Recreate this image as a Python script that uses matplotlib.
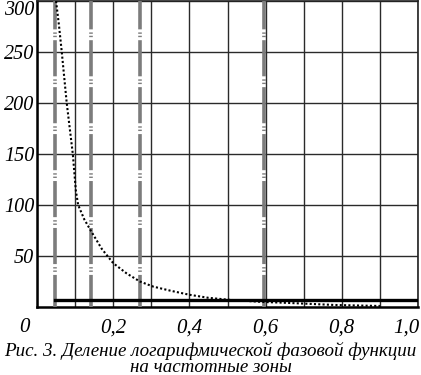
#!/usr/bin/env python3
"""Log phase function split into frequency zones (Fig. 3)."""

import matplotlib
matplotlib.use("Agg")
import matplotlib.pyplot as plt
import matplotlib.transforms as mtransforms

# Zone boundaries on the normalised frequency axis.
zone_bounds = [0.047, 0.142, 0.270, 0.596]

# Log phase function (dotted curve).
curve_x = [0.050, 0.058, 0.065, 0.078, 0.094, 0.102, 0.108, 0.124, 0.141, 0.170,
           0.200, 0.235, 0.270, 0.305, 0.350, 0.400, 0.450, 0.506, 0.590, 0.660,
           0.780, 0.900]
curve_y = [300, 275, 250, 200, 150, 114, 100, 86, 75, 57,
           43, 33, 25, 20, 16, 12, 9, 7, 5, 4,
           2, 1]

# Threshold level (thick horizontal line).
level_y = 6.5
level_x = [0.047, 1.0]

x_ticks = [0, 0.2, 0.4, 0.6, 0.8, 1.0]
x_tick_labels = ["0", "0,2", "0,4", "0,6", "0,8", "1,0"]
y_ticks = [50, 100, 150, 200, 250, 300]
y_tick_labels = ["50", "100", "150", "200", "250", "300"]

caption = ("Рис. 3. Деление логарифмической фазовой функции\n"
           "на частотные зоны")

plt.rcParams["font.family"] = ["Liberation Serif", "DejaVu Serif"]
plt.rcParams["font.style"] = "italic"
plt.rcParams["lines.scale_dashes"] = False

fig = plt.figure(figsize=(4.21, 3.75), dpi=100)
ax = fig.add_axes([37 / 421, 1 - 307 / 375, 381 / 421, 306 / 375])

ax.set_xlim(0, 1.0)
ax.set_ylim(0, 300)

# Grid every 0.1 / 50.
ax.set_xticks(x_ticks)
ax.set_xticks([i / 10 for i in range(1, 10, 2)], minor=True)
ax.set_yticks(y_ticks)
ax.grid(True, which="both", color="#2a2a2a", linewidth=1.0)
ax.set_axisbelow(True)

ax.set_xticklabels(x_tick_labels, fontsize=15)
ax.set_yticklabels(y_tick_labels, fontsize=14.5)
ax.tick_params(which="both", length=0)
ax.tick_params(axis="x", pad=8)
ax.tick_params(axis="y", pad=2)

# Nudge edge labels like in the original.
xl = ax.get_xticklabels()
xl[0].set_transform(xl[0].get_transform() +
                    mtransforms.ScaledTranslation(-13 / 100, 0, fig.dpi_scale_trans))
xl[-1].set_transform(xl[-1].get_transform() +
                     mtransforms.ScaledTranslation(-12 / 100, 0, fig.dpi_scale_trans))
yl = ax.get_yticklabels()
yl[-1].set_va("top")

# Zone boundaries: grey dash-dot-dot lines.
for xb in zone_bounds:
    ax.plot([xb, xb], [0, 300], color="#7c7c7c", linewidth=2.6,
            linestyle=(2.9, (26, 2.2, 1.0, 1.4, 1.0, 2.2)),
            dash_capstyle="butt", zorder=3)

# Threshold level.
ax.plot(level_x, [level_y, level_y], color="black", linewidth=2.4, zorder=4)

# Phase function curve.
ax.plot(curve_x, curve_y, color="black", linewidth=1.5,
        linestyle=(0, (1.5, 1.6)), zorder=5)

for side in ["left", "bottom"]:
    ax.spines[side].set_linewidth(1.8)
for side in ["top", "right"]:
    ax.spines[side].set_linewidth(1.2)
    ax.spines[side].set_color("#222222")

fig.text(0.5, 1 - 359 / 375, caption, ha="center", va="center",
         fontsize=13.7, linespacing=0.95)

fig.savefig("out.png", dpi=100)
